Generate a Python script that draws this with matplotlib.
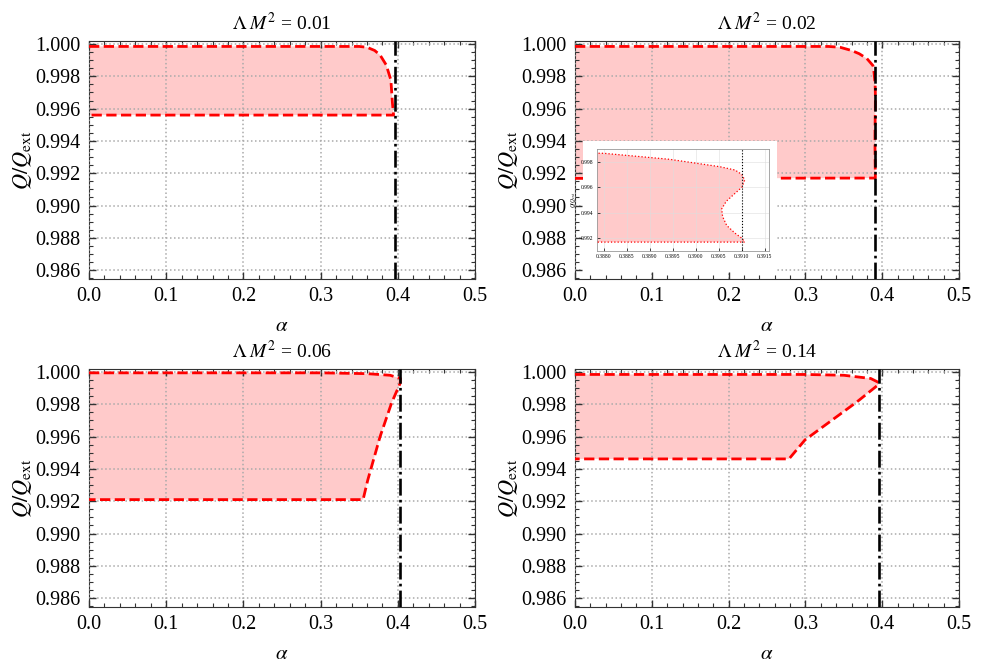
import numpy as np
import matplotlib.pyplot as plt
from matplotlib.patches import Rectangle
from matplotlib.ticker import MultipleLocator, FormatStrFormatter

plt.rcParams['font.family'] = ['Liberation Serif', 'DejaVu Serif']
plt.rcParams['mathtext.fontset'] = 'stix'

# boundary of the allowed region, traced from (0, upper) round to (0, lower)
alpha_01 = [0.0, 0.350, 0.360, 0.370, 0.377, 0.385, 0.391, 0.393, 0.3945, 0.3945, 0.0]
q_01 = [0.99985, 0.99985, 0.9998, 0.9996, 0.99932, 0.9987, 0.99777, 0.99635, 0.9956, 0.9956, 0.9956]
alpha_crit_01 = 0.3965

alpha_02 = [0.0, 0.330, 0.345, 0.360, 0.370, 0.380, 0.38800, 0.38943, 0.39052, 0.39085,
            0.39100, 0.39106, 0.39100, 0.39085, 0.39066, 0.39056, 0.39058, 0.39067,
            0.39085, 0.39100, 0.39106, 0.0]
q_02 = [0.99985, 0.99985, 0.9998, 0.9996, 0.9994, 0.9991, 0.99866, 0.99819, 0.99761, 0.99735,
        0.99700, 0.99656, 0.99600, 0.99552, 0.99490, 0.99430, 0.99370, 0.99300,
        0.99240, 0.99200, 0.99170, 0.99168]
alpha_crit_02 = 0.3910

alpha_06 = [0.0, 0.300, 0.360, 0.390, 0.4035, 0.403, 0.392, 0.377, 0.361, 0.355, 0.0]
q_06 = [0.99995, 0.99995, 0.9999, 0.9998, 0.9996, 0.9993, 0.9981, 0.9960, 0.9933, 0.9921, 0.9921]
alpha_crit_06 = 0.403

alpha_14 = [0.0, 0.300, 0.350, 0.385, 0.3955, 0.3945, 0.367, 0.2995, 0.2786, 0.0]
q_14 = [0.99985, 0.99985, 0.9998, 0.9996, 0.99935, 0.9992, 0.99815, 0.9958, 0.99462, 0.99462]
alpha_crit_14 = 0.396

titles = [r'$\Lambda\;M^2$ = 0.01', r'$\Lambda\;M^2$ = 0.02',
          r'$\Lambda\;M^2$ = 0.06', r'$\Lambda\;M^2$ = 0.14']
panels = [(alpha_01, q_01, alpha_crit_01), (alpha_02, q_02, alpha_crit_02),
          (alpha_06, q_06, alpha_crit_06), (alpha_14, q_14, alpha_crit_14)]

fill_color = '#ffcaca'

fig = plt.figure(figsize=(9.88, 6.66), dpi=100)
rects = [[0.0901, 0.5811, 0.3907, 0.3574], [0.5820, 0.5811, 0.3887, 0.3574],
         [0.0901, 0.0886, 0.3907, 0.3574], [0.5820, 0.0886, 0.3887, 0.3574]]

axes = []
for rect, title, (a, q, ac) in zip(rects, titles, panels):
    ax = fig.add_axes(rect)
    ax.fill(a, q, color=fill_color, lw=0, zorder=1)
    ax.plot(a, q, color='red', ls='--', lw=2.0, zorder=3)
    ax.axvline(ac, color='black', ls='-.', lw=1.9, zorder=4)
    ax.set_xlim(0, 0.5)
    ax.set_ylim(0.98545, 1.00019)
    ax.xaxis.set_major_locator(MultipleLocator(0.1))
    ax.xaxis.set_minor_locator(MultipleLocator(0.02))
    ax.yaxis.set_major_locator(MultipleLocator(0.002))
    ax.yaxis.set_minor_locator(MultipleLocator(0.0005))
    ax.xaxis.set_major_formatter(FormatStrFormatter('%.1f'))
    ax.yaxis.set_major_formatter(FormatStrFormatter('%.3f'))
    ax.tick_params(which='both', direction='in', top=True, right=True, labelsize=14.5,
                   color='#333333')
    ax.tick_params(which='major', length=5, width=1, pad=6)
    ax.tick_params(which='minor', length=3, width=0.8)
    ax.grid(True, which='major', ls=':', color='#aaaaaa', lw=1.1, zorder=2)
    ax.set_axisbelow(False)
    for s in ax.spines.values():
        s.set_color('#333333')
    ax.set_title(title, fontsize=14, pad=8)
    ax.set_xlabel(r'$\alpha$', fontsize=15, labelpad=8)
    ax.set_ylabel(r'$Q/Q_{\rm ext}$', fontsize=16, labelpad=1)
    axes.append(ax)

# zoom on the turning point for Lambda M^2 = 0.02
fig.patches.append(Rectangle((583 / 988, 1 - 272 / 666), 194 / 988, 131 / 666,
                             transform=fig.transFigure, facecolor='white',
                             edgecolor='none', zorder=5))
ins = fig.add_axes([0.6043, 0.6231, 0.1741, 0.1532], zorder=6)
ins.fill(alpha_02, q_02, color=fill_color, lw=0, zorder=1)
ins.plot(alpha_02, q_02, color='red', ls=':', lw=0.9, zorder=3)
ins.axvline(alpha_crit_02, color='black', ls=':', lw=0.8, zorder=4)
ins.set_xlim(0.38785, 0.39159)
ins.set_ylim(0.991, 0.999)
ins.xaxis.set_major_locator(MultipleLocator(0.0005))
ins.yaxis.set_major_locator(MultipleLocator(0.002))
ins.xaxis.set_major_formatter(FormatStrFormatter('%.4f'))
ins.yaxis.set_major_formatter(FormatStrFormatter('%.3f'))
ins.tick_params(direction='in', labelsize=4, length=2, width=0.5, pad=2.5)
ins.grid(True, color='#dddddd', lw=0.4)
for s in ins.spines.values():
    s.set_color('#999999')
    s.set_linewidth(0.6)
ins.set_ylabel(r'$Q/Q_{\rm ext}$', fontsize=4, labelpad=2)

fig.savefig('out.png', dpi=100)
